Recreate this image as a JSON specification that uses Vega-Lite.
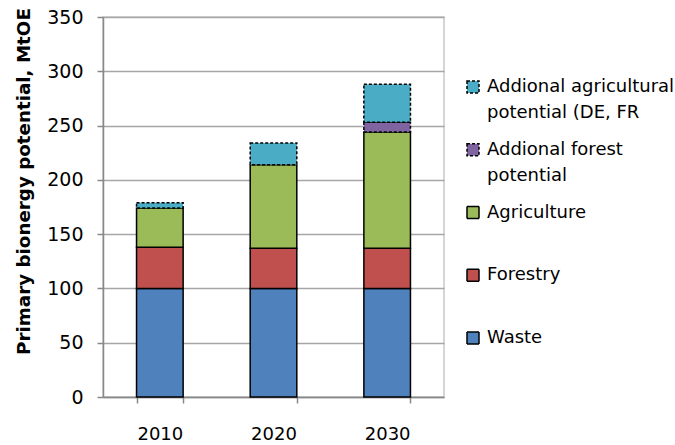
{
  "$schema": "https://vega.github.io/schema/vega-lite/v6.json",
  "width": 341,
  "height": 380,
  "autosize": {"type": "none"},
  "padding": {"left": 103, "top": 17, "right": 231, "bottom": 48},
  "background": "white",
  "data": {
    "values": [
      {"year": "2010", "source": "Waste", "potential": 100},
      {"year": "2010", "source": "Forestry", "potential": 38},
      {"year": "2010", "source": "Agriculture", "potential": 36},
      {"year": "2010", "source": "Addional agricultural potential (DE, FR", "potential": 5},
      {"year": "2020", "source": "Waste", "potential": 100},
      {"year": "2020", "source": "Forestry", "potential": 37},
      {"year": "2020", "source": "Agriculture", "potential": 77},
      {"year": "2020", "source": "Addional agricultural potential (DE, FR", "potential": 20},
      {"year": "2030", "source": "Waste", "potential": 100},
      {"year": "2030", "source": "Forestry", "potential": 37},
      {"year": "2030", "source": "Agriculture", "potential": 107},
      {"year": "2030", "source": "Addional forest potential", "potential": 9},
      {"year": "2030", "source": "Addional agricultural potential (DE, FR", "potential": 35}
    ]
  },
  "transform": [
    {
      "calculate": "indexof(['Waste', 'Forestry', 'Agriculture', 'Addional forest potential', 'Addional agricultural potential (DE, FR'], datum.source)",
      "as": "stackRank"
    }
  ],
  "mark": {"type": "bar", "stroke": "black", "strokeWidth": 1.5},
  "encoding": {
    "x": {
      "field": "year",
      "type": "nominal",
      "scale": {"paddingInner": 0.59, "paddingOuter": 0.295},
      "axis": {
        "title": null,
        "labelAngle": 0,
        "tickBand": "extent",
        "tickSize": 6,
        "tickWidth": 1.5,
        "tickColor": "#888888",
        "domainColor": "#888888",
        "domainWidth": 1.5,
        "labelPadding": 22,
        "labelFontSize": 18,
        "labelColor": "black",
        "grid": false
      }
    },
    "y": {
      "field": "potential",
      "type": "quantitative",
      "stack": "zero",
      "scale": {"domain": [0, 350], "nice": false},
      "axis": {
        "values": [0, 50, 100, 150, 200, 250, 300, 350],
        "title": "Primary bionergy potential, MtOE",
        "titleFontSize": 18.3,
        "titleFontWeight": "bold",
        "titleColor": "black",
        "titleAngle": 270,
        "titleAlign": "center",
        "titleBaseline": "middle",
        "titleX": -79,
        "titleY": 164,
        "grid": true,
        "gridColor": "#a6a6a6",
        "gridWidth": 1.5,
        "domainColor": "#888888",
        "domainWidth": 1.5,
        "tickColor": "#888888",
        "tickWidth": 1.5,
        "tickSize": 6,
        "labelPadding": 14,
        "labelFontSize": 19,
        "labelColor": "black"
      }
    },
    "color": {
      "field": "source",
      "type": "nominal",
      "scale": {
        "domain": ["Addional agricultural potential (DE, FR", "Addional forest potential", "Agriculture", "Forestry", "Waste"],
        "range": ["#4BACC6", "#8064A2", "#9BBB59", "#C0504D", "#4F81BD"]
      },
      "legend": {
        "title": null,
        "orient": "none",
        "legendX": 361,
        "legendY": 61,
        "padding": 0,
        "symbolType": "square",
        "symbolSize": 144,
        "symbolStrokeColor": "black",
        "symbolStrokeWidth": 1.5,
        "symbolOpacity": 1,
        "labelFontSize": 18,
        "labelColor": "black",
        "labelBaseline": "top",
        "labelOffset": 5,
        "labelLimit": 300,
        "gridAlign": "all",
        "rowPadding": 18.75,
        "labelExpr": "indexof(datum.label, 'agricultural') > 0 ? ['Addional agricultural', 'potential (DE, FR'] : indexof(datum.label, 'forest') > 0 ? ['Addional forest', 'potential'] : datum.label",
        "encode": {
          "labels": {"update": {"dy": {"value": -9}, "lineHeight": {"value": 26}}}
        }
      }
    },
    "strokeDash": {
      "field": "source",
      "type": "nominal",
      "scale": {
        "domain": ["Addional agricultural potential (DE, FR", "Addional forest potential", "Agriculture", "Forestry", "Waste"],
        "range": [[3, 2], [3, 2], [1, 0], [1, 0], [1, 0]]
      },
      "legend": null
    },
    "order": {"field": "stackRank", "type": "quantitative"}
  },
  "config": {
    "font": "DejaVu Sans",
    "view": {"stroke": "#c8c8c8", "strokeWidth": 1.5}
  }
}
